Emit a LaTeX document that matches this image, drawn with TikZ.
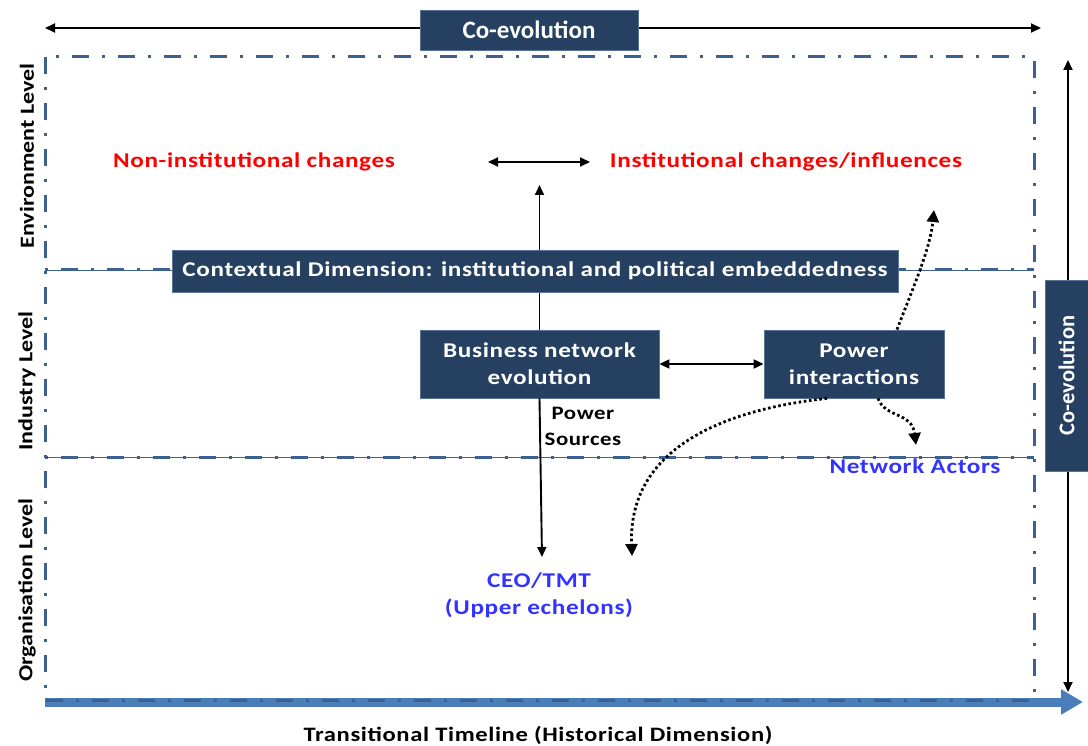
\documentclass[tikz,border=0pt]{standalone}
\usepackage{fontspec}
\setmainfont{Carlito}
\newfontfamily\widefont[FakeStretch=1.2,LetterSpace=3]{Carlito}
\newfontfamily\levelfont[FakeStretch=1.2]{Carlito}
\usetikzlibrary{arrows.meta}
\pgfdeclarelayer{behind}
\pgfsetlayers{behind,main}

\definecolor{boxblue}{RGB}{37,64,97}
\definecolor{boxedge}{RGB}{90,115,150}
\definecolor{frameblue}{RGB}{59,96,145}
\definecolor{timeblue}{RGB}{74,126,187}
\definecolor{actorblue}{RGB}{51,51,255}
\definecolor{changered}{RGB}{255,0,0}

\tikzset{
  darkbox/.style={fill=boxblue, draw=boxedge, line width=0.8pt, text=white,
    align=center, inner sep=0pt,
    font=\widefont\bfseries\fontsize{21}{27}\selectfont},
  frame/.style={draw=frameblue, line width=3pt,
    dash pattern=on 17pt off 13pt on 3pt off 13pt},
  dividerthin/.style={draw=frameblue, line width=0.9pt},
  dividerdash/.style={draw=frameblue, line width=3pt,
    dash pattern=on 3pt off 13pt on 17pt off 13pt},
  tip/.style={-{Triangle[length=10pt,width=9pt]}},
  arrow/.style={line width=1.9pt, tip},
  biarrow/.style={line width=1.9pt, {Triangle[length=10pt,width=9pt]}-{Triangle[length=10pt,width=9pt]}},
  dotarrow/.style={line width=2.8pt, dash pattern=on 2.6pt off 2.6pt,
    -{Triangle[length=12pt,width=12pt]}},
  timeline/.style={draw=timeblue, line width=9pt,
    -{Triangle[length=22pt,width=24pt]}},
  levellabel/.style={rotate=90, font=\levelfont\bfseries\fontsize{20}{24}\selectfont},
  redtext/.style={text=changered, font=\widefont\bfseries\fontsize{21}{24}\selectfont},
  bluetext/.style={text=actorblue, align=center,
    font=\widefont\bfseries\fontsize{21}{27}\selectfont},
  blacktext/.style={align=center, font=\widefont\bfseries\fontsize{19}{26}\selectfont},
}

\begin{document}
\begin{tikzpicture}[x=1pt,y=-1pt]
\useasboundingbox (0,0) rectangle (1088,746);

% historical timeline along the bottom
\coordinate (tlStart) at (45,702);
\coordinate (tlEnd) at (1083,702);
\draw[timeline] (tlStart) -- (tlEnd);
\node[font=\widefont\bfseries\fontsize{20.5}{24}\selectfont] (timelineLabel) at (538,735)
  {Transitional Timeline (Historical Dimension)};

% outer frame and level dividers
\draw[frame] (45,57) rectangle (1034,700);
\foreach \yy in {270,457} {
  \draw[dividerthin] (45,\yy) -- (1034,\yy);
  \draw[dividerdash] (45,\yy) -- (1034,\yy);
}

% level labels
\node[levellabel] (envLabel) at (27,156) {Environment Level};
\node[levellabel] (indLabel) at (27,381) {Industry Level};
\node[levellabel] (orgLabel) at (27,590) {Organisation Level};

% horizontal co-evolution axis
\coordinate (topL) at (45,28);
\coordinate (topR) at (1041,28);
\draw[biarrow] (topL) -- (topR);
\node[darkbox, font=\bfseries\fontsize{25}{28}\selectfont,
  minimum width=218pt, minimum height=40pt] (coevoTop) at (529,30) {Co-evolution};

% vertical co-evolution axis
\coordinate (rightT) at (1068,60);
\coordinate (rightB) at (1068,692);
\draw[biarrow] (rightT) -- (rightB);
\node[darkbox, font=\bfseries\fontsize{22.5}{26}\selectfont, rotate=90,
  minimum width=191pt, minimum height=43pt] (coevoRight) at (1066.5,375.5) {Co-evolution};

% environment level
\node[redtext] (nonInst) at (254,162) {Non-institutional changes};
\node[redtext] (inst) at (786,162) {Institutional changes/influences};
\coordinate (envL) at (488,162);
\coordinate (envR) at (590,162);
\draw[biarrow] (envL) -- (envR);

% dimension boxes
\node[darkbox, minimum width=726pt, minimum height=42pt] (context) at (535,271)
  {Contextual Dimension: institutional and political embeddedness};
\node[darkbox, minimum width=239pt, minimum height=68pt] (bizEvo) at (539.5,364)
  {Business network\\evolution};
\node[darkbox, minimum width=180pt, minimum height=68pt] (power) at (854,364)
  {Power\\interactions};

% text labels
\node[blacktext] (sources) at (583,426) {Power\\Sources};
\node[bluetext] (actors) at (915,466) {Network Actors};
\node[bluetext] (ceo) at (539,595) {CEO/TMT\\(Upper echelons)};

% solid connectors
\coordinate (envTip) at (539.5,185);
\coordinate (ceoTip) at (542,557);
\begin{pgfonlayer}{behind}
  \draw[arrow] (bizEvo.north) -- (envTip);
\end{pgfonlayer}
\draw[arrow] (bizEvo.south) -- (ceoTip);
\draw[biarrow] (bizEvo.east) -- (power.west);

% dotted influence paths from power interactions
\coordinate (instTip) at (934,210);
\coordinate (ceoSideTip) at (632,556);
\coordinate (actorTip) at (916,445);
\draw[dotarrow] ([xshift=43pt]power.north) .. controls (912,290) and (930,250) .. (instTip);
\draw[dotarrow] ([xshift=-27pt]power.south) .. controls (720,410) and (628,450) .. (ceoSideTip);
\draw[dotarrow] ([xshift=24pt]power.south) .. controls (885,418) and (912,412) .. (actorTip);
\end{tikzpicture}
\end{document}
